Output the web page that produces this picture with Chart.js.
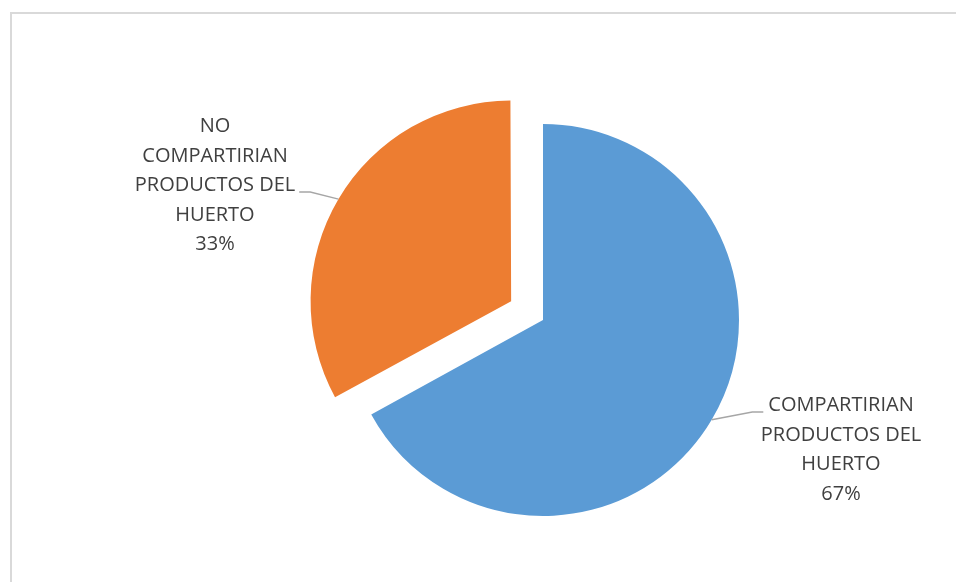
<!DOCTYPE html>
<html>
<head>
<meta charset="utf-8">
<script src="https://cdn.jsdelivr.net/npm/chart.js@4.4.1/dist/chart.umd.min.js"></script>
<style>
  body { margin: 0; background: #fff; overflow: hidden; }
  #frame { position: absolute; left: 10px; top: 12px; width: 1000px; height: 700px; border: 2px solid #d9d9d9; }
  #chart { position: absolute; left: 0; top: 0; }
</style>
</head>
<body>
<div id="frame"></div>
<canvas id="chart" width="956" height="582"></canvas>
<script>
// categories (multi-line, as wrapped in the picture)
const categories = [
  ['COMPARTIRIAN', 'PRODUCTOS DEL', 'HUERTO'],
  ['NO', 'COMPARTIRIAN', 'PRODUCTOS DEL', 'HUERTO']
];
const values = [67, 33];
const colors = ['#5B9BD5', '#ED7D31'];

// label placement: text block centre x, first line y, which line the leader meets, side
const labelSpots = [
  { x: 841, y: 405.5, line: 0, side: 'left' },
  { x: 215, y: 126.5, line: 2, side: 'right' }
];

const pieLabels = {
  id: 'pieLabels',
  afterDatasetsDraw(chart) {
    const ctx = chart.ctx;
    const meta = chart.getDatasetMeta(0);
    const total = values.reduce((a, b) => a + b, 0);
    const lineH = 29.5;
    ctx.save();
    ctx.font = '20px "Open Sans"';
    ctx.textAlign = 'center';
    ctx.textBaseline = 'middle';

    meta.data.forEach((arc, i) => {
      const spot = labelSpots[i];
      const lines = categories[i].concat([Math.round(values[i] / total * 100) + '%']);

      // point on the slice edge at its mid angle (including explode offset)
      const mid = (arc.startAngle + arc.endAngle) / 2;
      const off = (arc.options.offset || 0) / 4;
      const fix = 1 - Math.sin(Math.min(Math.PI, arc.circumference));
      const r = arc.outerRadius + off * fix + off;
      const ex = arc.x + Math.cos(mid) * r;
      const ey = arc.y + Math.sin(mid) * r;

      // leader end next to the text
      const w = ctx.measureText(lines[spot.line]).width;
      const ly = spot.y + spot.line * lineH + 6.5;
      const lx = spot.side === 'left' ? spot.x - w / 2 - 5 : spot.x + w / 2 + 4;
      const kx = spot.side === 'left' ? lx - 11 : lx + 11;

      ctx.strokeStyle = '#a6a6a6';
      ctx.lineWidth = 1.4;
      ctx.beginPath();
      ctx.moveTo(ex, ey);
      ctx.lineTo(kx, ly);
      ctx.lineTo(lx, ly);
      ctx.stroke();

      ctx.fillStyle = '#404040';
      lines.forEach((t, k) => ctx.fillText(t, spot.x, spot.y + k * lineH));
    });
    ctx.restore();
  }
};

new Chart(document.getElementById('chart'), {
  type: 'pie',
  data: {
    labels: categories,
    datasets: [{
      data: values,
      backgroundColor: colors,
      borderWidth: 0,
      offset: [0, 148],
      radius: 196
    }]
  },
  options: {
    responsive: false,
    animation: false,
    events: [],
    layout: { padding: { left: 130, top: 58, right: 0, bottom: 0 } },
    plugins: {
      legend: { display: false },
      tooltip: { enabled: false }
    }
  },
  plugins: [pieLabels]
});
</script>
</body>
</html>
